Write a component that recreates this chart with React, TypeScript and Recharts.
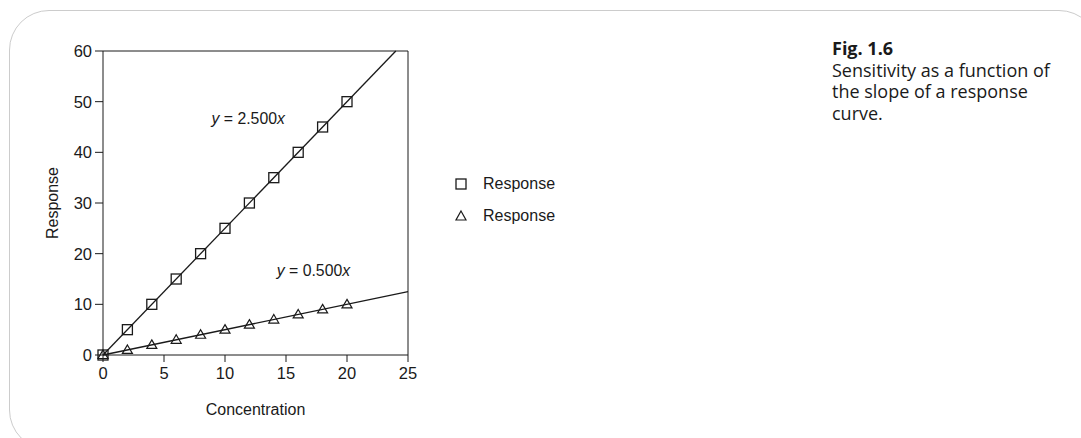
import React from "react";
import {
  Legend,
  ReferenceDot,
  ReferenceLine,
  Scatter,
  ScatterChart,
  XAxis,
  YAxis,
} from "recharts";

// measured points
const squarePts = [
  { x: 0, y: 0 },
  { x: 2, y: 5 },
  { x: 4, y: 10 },
  { x: 6, y: 15 },
  { x: 8, y: 20 },
  { x: 10, y: 25 },
  { x: 12, y: 30 },
  { x: 14, y: 35 },
  { x: 16, y: 40 },
  { x: 18, y: 45 },
  { x: 20, y: 50 },
];
const trianglePts = [
  { x: 0, y: 0 },
  { x: 2, y: 1 },
  { x: 4, y: 2 },
  { x: 6, y: 3 },
  { x: 8, y: 4 },
  { x: 10, y: 5 },
  { x: 12, y: 6 },
  { x: 14, y: 7 },
  { x: 16, y: 8 },
  { x: 18, y: 9 },
  { x: 20, y: 10 },
];
// fitted lines (end points)
const fitSteep = [
  { x: 0, y: 0 },
  { x: 24, y: 60 },
];
const fitShallow = [
  { x: 0, y: 0 },
  { x: 25, y: 12.5 },
];
const xTicks = [0, 5, 10, 15, 20, 25];
const yTicks = [0, 10, 20, 30, 40, 50, 60];
const legendNames = ["Response", "Response"];
const equations = [
  { x: 11.9, y: 46.7, slope: "2.500" },
  { x: 17.25, y: 16.8, slope: "0.500" },
];

const INK = "#1a1a1a";
const FONT = "'Liberation Sans', Arial, sans-serif";

const Square = (p: any) => (
  <rect
    x={p.cx - 5}
    y={p.cy - 5}
    width={10}
    height={10}
    fill="none"
    stroke={INK}
    strokeWidth={1.3}
  />
);

const Triangle = (p: any) => (
  <path
    d={`M${p.cx},${p.cy - 5} L${p.cx + 5},${p.cy + 3.5} L${p.cx - 5},${p.cy + 3.5} Z`}
    fill="none"
    stroke={INK}
    strokeWidth={1.2}
  />
);

const NoDot = () => <g />;

const XTick = (p: any) => (
  <text
    x={p.x}
    y={p.y}
    dy={11.5}
    textAnchor="middle"
    fontFamily={FONT}
    fontSize={16.5}
    fill={INK}
  >
    {p.payload.value}
  </text>
);

const YTick = (p: any) => (
  <text
    x={p.x}
    y={p.y}
    dy={6}
    textAnchor="end"
    fontFamily={FONT}
    fontSize={16.5}
    fill={INK}
  >
    {p.payload.value}
  </text>
);

const eqLabel = (slope: string) => (props: any) => {
  const { x, y } = props.viewBox;
  return (
    <text
      x={x}
      y={y}
      textAnchor="middle"
      dominantBaseline="central"
      fontFamily={FONT}
      fontSize={15.8}
      fill={INK}
    >
      <tspan fontStyle="italic">y</tspan>
      <tspan> = {slope}</tspan>
      <tspan fontStyle="italic">x</tspan>
    </text>
  );
};

const renderLegend = () => (
  <div style={{ fontFamily: FONT, fontSize: 16, color: INK }}>
    {legendNames.map((name, i) => (
      <div
        key={i}
        style={{ display: "flex", alignItems: "center", height: 32 }}
      >
        <svg width={16} height={16} style={{ marginRight: 14 }}>
          {i === 0 ? (
            <rect x={3} y={3} width={10} height={10} fill="none" stroke={INK} strokeWidth={1.3} />
          ) : (
            <path d="M8,3 L13,12 L3,12 Z" fill="none" stroke={INK} strokeWidth={1.2} />
          )}
        </svg>
        <span>{name}</span>
      </div>
    ))}
  </div>
);

export default function App() {
  return (
    <div
      style={{
        position: "absolute",
        left: 0,
        top: 0,
        width: 1081,
        height: 438,
        overflow: "hidden",
        background: "#fff",
      }}
    >
      <div
        style={{
          position: "absolute",
          left: 9,
          top: 10,
          width: 1090,
          height: 440,
          border: "1.5px solid #cccccc",
          borderRadius: 40,
          boxSizing: "border-box",
        }}
      />
      <div style={{ position: "absolute", left: 0, top: 0 }}>
        <ScatterChart
          width={1081}
          height={438}
          margin={{ top: 51, right: 673, bottom: 0, left: 43 }}
        >
          <XAxis
            type="number"
            dataKey="x"
            domain={[0, 25]}
            ticks={xTicks}
            tickSize={7}
            tickMargin={5}
            stroke={INK}
            tick={XTick}
            label={{
              value: "Concentration",
              position: "insideBottom",
              offset: 23,
              fill: INK,
              fontSize: 16,
              fontFamily: FONT,
            }}
            height={83}
          />
          <YAxis
            type="number"
            dataKey="y"
            domain={[0, 60]}
            ticks={yTicks}
            tickSize={8}
            tickMargin={3}
            width={60}
            stroke={INK}
            tick={YTick}
            label={{
              value: "Response",
              angle: -90,
              position: "insideLeft",
              offset: 0,
              dx: 9,
              fill: INK,
              fontSize: 16,
              fontFamily: FONT,
              style: { textAnchor: "middle" },
            }}
          />
          <ReferenceLine y={60} stroke={INK} strokeWidth={1} />
          <ReferenceLine x={25} stroke={INK} strokeWidth={1} />
          <Scatter
            data={fitSteep}
            line={{ stroke: INK, strokeWidth: 1.3 }}
            shape={NoDot}
            legendType="none"
            isAnimationActive={false}
          />
          <Scatter
            data={fitShallow}
            line={{ stroke: INK, strokeWidth: 1.3 }}
            shape={NoDot}
            legendType="none"
            isAnimationActive={false}
          />
          <Scatter
            name="Response"
            data={trianglePts}
            shape={Triangle}
            isAnimationActive={false}
          />
          <Scatter
            name="Response"
            data={squarePts}
            shape={Square}
            isAnimationActive={false}
          />
          {equations.map((e, i) => (
            <ReferenceDot
              key={i}
              x={e.x}
              y={e.y}
              r={0}
              fill="none"
              stroke="none"
              label={{ content: eqLabel(e.slope) }}
            />
          ))}
          <Legend
            layout="vertical"
            align="center"
            verticalAlign="middle"
            content={renderLegend}
            wrapperStyle={{ left: 453, top: 168, width: 160 }}
          />
        </ScatterChart>
      </div>
      <div
        style={{
          position: "absolute",
          left: 832,
          top: 38,
          fontFamily: "'Open Sans', 'Noto Sans', sans-serif",
          fontSize: 18,
          lineHeight: "21.7px",
          color: INK,
          width: 250,
          whiteSpace: "nowrap",
        }}
      >
        <div style={{ fontWeight: 700 }}>Fig. 1.6</div>
        <div>Sensitivity as a function of</div>
        <div>the slope of a response</div>
        <div>curve.</div>
      </div>
    </div>
  );
}
